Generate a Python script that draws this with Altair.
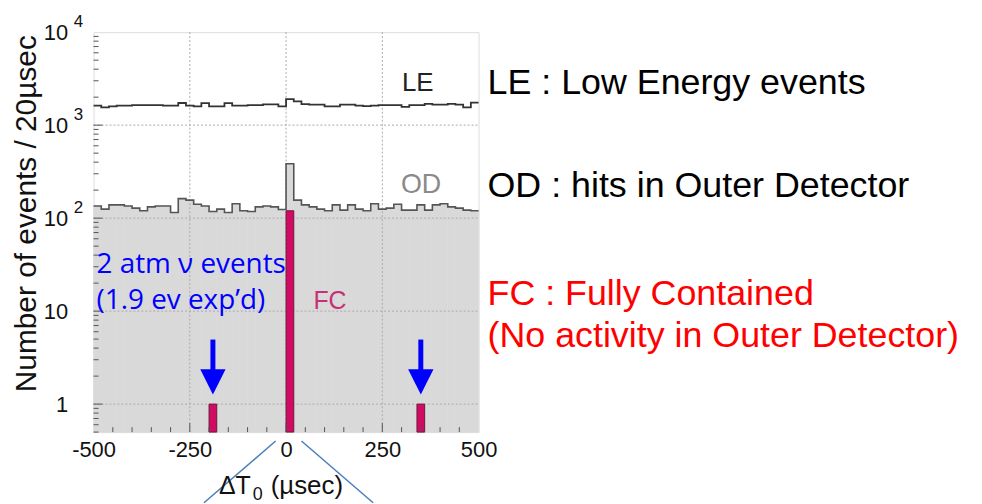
import altair as alt
import pandas as pd

# ---------------- data ----------------
bin_edges = list(range(-500, 520, 20))  # 51 edges, 20 usec bins

le_counts = [1620, 1555, 1590, 1620, 1620, 1640, 1640, 1640, 1640, 1620,
             1620, 1730, 1620, 1590, 1725, 1590, 1590, 1725, 1620, 1620,
             1640, 1640, 1670, 1670, 1590, 1905, 1800, 1685, 1660, 1660,
             1590, 1590, 1660, 1660, 1620, 1600, 1620, 1640, 1640, 1640,
             1575, 1640, 1640, 1690, 1660, 1660, 1690, 1660, 1550, 1750]

od_counts = [135, 125, 139, 139, 135, 128, 120, 132, 135, 135,
             115, 162, 156, 141, 135, 118, 125, 115, 143, 120,
             118, 132, 135, 132, 124, 384, 156, 139, 132, 125,
             120, 139, 122, 139, 125, 120, 143, 125, 128, 141,
             122, 122, 139, 122, 139, 143, 132, 128, 122, 120]

fc_bin_lo = [-200, 0, 340]
fc_counts = [1, 120, 1]

event_x = [-190, 350]          # the two atmospheric-nu events (bin centres)

x_ticks = [-500, -250, 0, 250, 500]
y_ticks = [1, 10, 100, 1000, 10000]
y_grid = [1, 10, 100, 1000]
x_grid = [-250, 0, 250]
exp_vals = [100, 1000, 10000]
exp_text = ["2", "3", "4"]

W, H = 387, 402
FONT = "Liberation Sans"

# ---------------- tables ----------------
step_le = pd.DataFrame({"x": bin_edges, "y": le_counts + [le_counts[-1]]})
step_od = pd.DataFrame({"x": bin_edges, "y": od_counts + [od_counts[-1]]})
od_bins = pd.DataFrame({"lo": bin_edges[:-1], "hi": bin_edges[1:], "y": od_counts})
fc_df = pd.DataFrame({"lo": fc_bin_lo, "hi": [v + 20 for v in fc_bin_lo], "y": fc_counts})

minor_y = [m * 10 ** k for k in range(-1, 4) for m in range(2, 10) if 0.5 <= m * 10 ** k <= 10000]
minor_x = [v for v in range(-450, 500, 50) if v not in (-250, 0, 250)]

xscale = alt.Scale(domain=[-500, 500], nice=False, zero=False)
yscale = alt.Scale(type="log", domain=[0.5, 10000], nice=False)

x_axis = alt.Axis(values=x_ticks, title=None, grid=False, ticks=False,
                  labelExpr="datum.value < 0 ? '-' + abs(datum.value) : '' + datum.value",
                  domain=False, labelFont=FONT, labelFontSize=22, labelColor="#111",
                  labelPadding=8, labelFlush=False, labelOverlap=False)
y_axis = alt.Axis(values=y_ticks, labelExpr="datum.value >= 10 ? '10' : '1'", grid=False,
                  ticks=False, domain=False, labelFont=FONT, labelFontSize=22,
                  labelColor="#111", labelPadding=26, labelFlush=False, labelOverlap=False,
                  title="Number of events / 20µsec", titleFont=FONT, titleFontSize=30,
                  titleFontWeight="normal", titleColor="#111", titleAngle=270,
                  titleX=-58, titleY=182, titleAlign="center", titleBaseline="alphabetic")


def X(field, **kw):
    return alt.X(field, scale=xscale, axis=x_axis, **kw)


def Y(field, **kw):
    return alt.Y(field, scale=yscale, axis=y_axis, **kw)


# OD histogram filled (gray), one rect per bin
od_fill = alt.Chart(od_bins).mark_rect(color="#d9d9d9", stroke="#d9d9d9", strokeWidth=0.6).encode(
    x=X("lo:Q"), x2="hi:Q", y=Y("y:Q"), y2=alt.value(H))

grid_h = alt.Chart(pd.DataFrame({"v": y_grid})).mark_rule(
    color="#aaaaaa", strokeDash=[2, 2], strokeWidth=1).encode(
    y=Y("v:Q"), x=alt.value(0), x2=alt.value(W))
grid_v = alt.Chart(pd.DataFrame({"v": x_grid})).mark_rule(
    color="#aaaaaa", strokeDash=[2, 2], strokeWidth=1).encode(
    x=X("v:Q"), y=alt.value(0), y2=alt.value(H))

fc_bars = alt.Chart(fc_df).mark_rect(color="#d10a63", stroke="#6b1a3a", strokeWidth=1).encode(
    x=X("lo:Q"), x2="hi:Q", y=Y("y:Q"), y2=alt.value(H))

od_line = alt.Chart(step_od).mark_line(interpolate="step-after", color="#555555", strokeWidth=1.6).encode(
    x=X("x:Q"), y=Y("y:Q"))
le_line = alt.Chart(step_le).mark_line(interpolate="step-after", color="#333333", strokeWidth=1.8).encode(
    x=X("x:Q"), y=Y("y:Q"))

# inside ticks (ROOT style)
tick_ly_major = alt.Chart(pd.DataFrame({"v": y_grid})).mark_rule(color="#555", strokeWidth=1).encode(
    y=Y("v:Q"), x=alt.value(0), x2=alt.value(9))
tick_ly_minor = alt.Chart(pd.DataFrame({"v": minor_y})).mark_rule(color="#555", strokeWidth=1).encode(
    y=Y("v:Q"), x=alt.value(0), x2=alt.value(5))
tick_bx_major = alt.Chart(pd.DataFrame({"v": x_grid})).mark_rule(color="#555", strokeWidth=1).encode(
    x=X("v:Q"), y=alt.value(H), y2=alt.value(H - 9))
tick_bx_minor = alt.Chart(pd.DataFrame({"v": minor_x})).mark_rule(color="#555", strokeWidth=1).encode(
    x=X("v:Q"), y=alt.value(H), y2=alt.value(H - 5))

# exponents of the y tick labels
exps = alt.Chart(pd.DataFrame({"v": exp_vals, "t": exp_text})).mark_text(
    align="left", baseline="middle", font=FONT, fontSize=17, color="#111", dy=-10).encode(
    y=Y("v:Q"), x=alt.value(-20), text="t:N")


def txt(s, x, y, size, color, font=FONT):
    return alt.Chart(pd.DataFrame({"t": [s]})).mark_text(
        align="left", baseline="alphabetic", font=font, fontSize=size, color=color).encode(
        x=alt.value(x), y=alt.value(y), text="t:N")


texts = [
    # x-axis title  ΔT_0 (µsec)
    txt("ΔT", 126, 464, 25, "#111111"),
    txt("0", 160, 470, 18, "#111111"),
    txt("(µsec)", 178, 464, 26, "#111111"),
    # labels inside the plot
    txt("LE", 310, 59, 26, "#222222"),
    txt("OD", 309, 162, 27, "#8a8a8a"),
    txt("FC", 221, 278, 25, "#c92f74"),
    txt("2 atm ν events", 3, 242, 28, "#0000ff", "Open Sans"),
    txt("(1.9 ev exp’d)", 3, 278, 28, "#0000ff", "Open Sans"),
    # legend text on the right
    txt("LE : Low Energy events", 396, 62, 36, "#000000"),
    txt("OD : hits in Outer Detector", 396, 166, 36, "#000000"),
    txt("FC : Fully Contained", 396, 274, 36, "#ff0000"),
    txt("(No activity in Outer Detector)", 396, 316, 36, "#ff0000"),
]

arrow_df = pd.DataFrame({"x": event_x})
shafts = alt.Chart(arrow_df).mark_rule(color="#0000ff", strokeWidth=5).encode(
    x=X("x:Q"), y=alt.value(309), y2=alt.value(342))
heads = alt.Chart(arrow_df).mark_point(shape="M-1,-1L1,-1L0,1Z", filled=True, size=650,
                                       color="#0000ff", opacity=1).encode(
    x=X("x:Q"), y=alt.value(351.5))

one = pd.DataFrame({"a": [0]})
zoom_l = alt.Chart(one).mark_rule(color="#4a7ebb", strokeWidth=1.5).encode(
    x=alt.value(183), y=alt.value(411), x2=alt.value(111), y2=alt.value(473))
zoom_r = alt.Chart(one).mark_rule(color="#4a7ebb", strokeWidth=1.5).encode(
    x=alt.value(209), y=alt.value(411), x2=alt.value(281), y2=alt.value(473))

chart = alt.layer(
    od_fill, grid_h, grid_v, fc_bars, od_line, le_line,
    tick_ly_major, tick_ly_minor, tick_bx_major, tick_bx_minor,
    exps, shafts, heads, zoom_l, zoom_r, *texts
).properties(
    width=W, height=H,
    autosize=alt.AutoSizeParams(type="none"),
    padding={"left": 86, "top": 23, "right": 498, "bottom": 71},
).configure_view(stroke="#444444", strokeWidth=1).configure(background="white")

chart.save("out.html", embed_options={"renderer": "svg", "actions": False})
